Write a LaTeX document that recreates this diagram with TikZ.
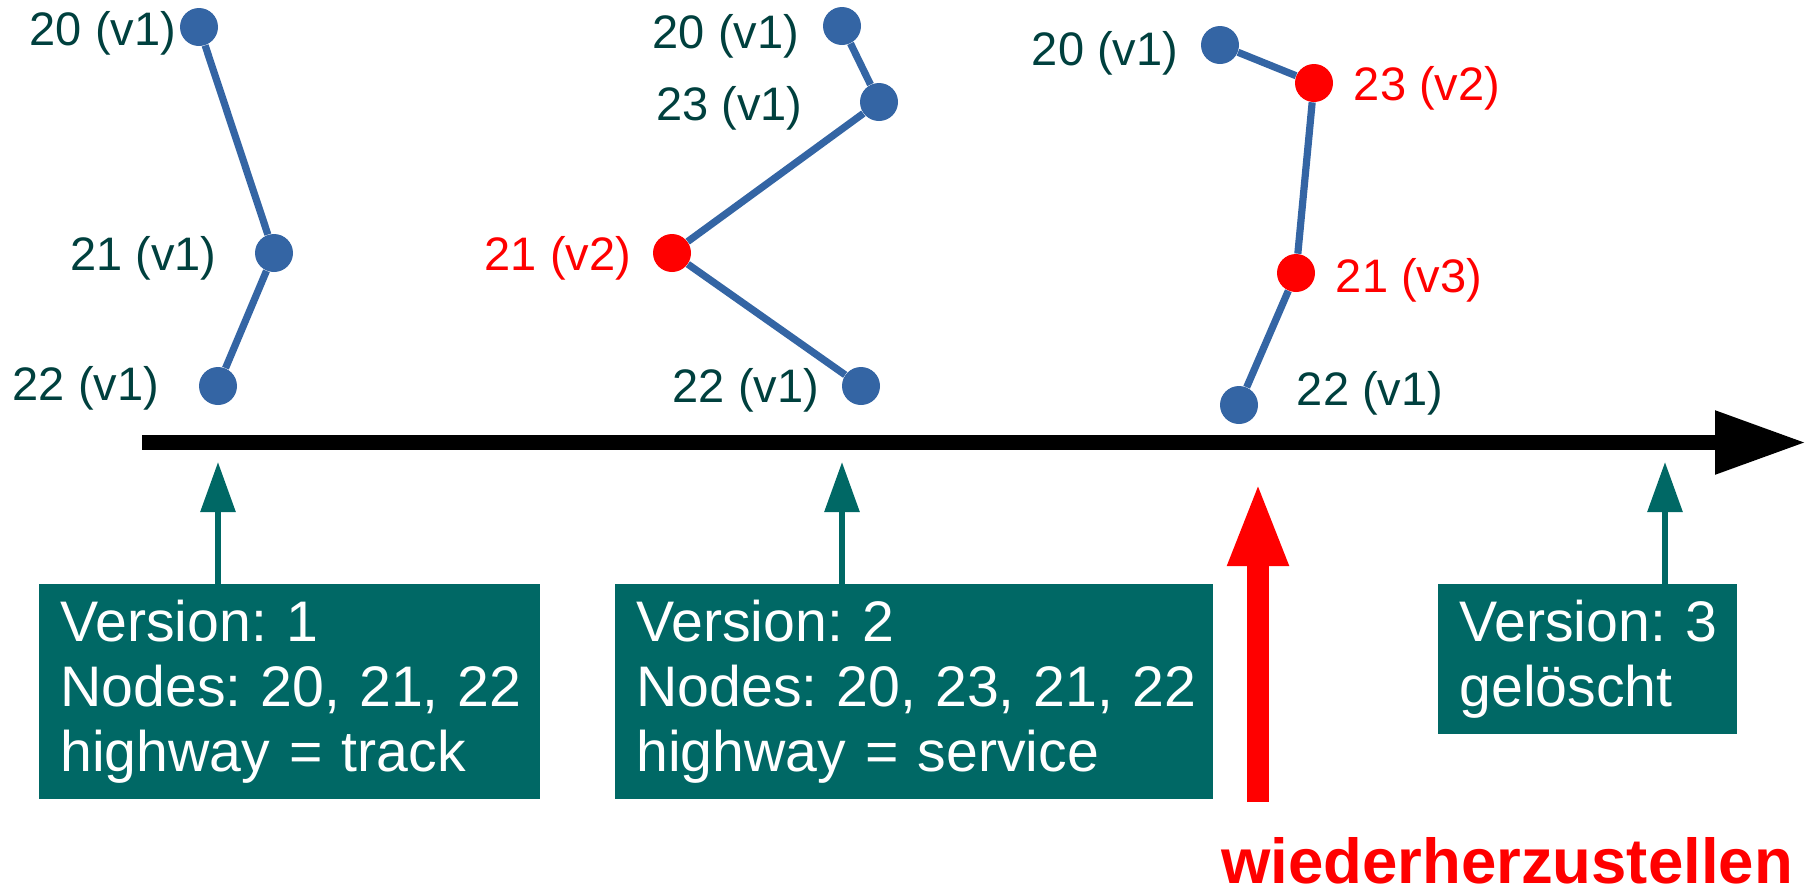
\documentclass[tikz,border=0pt]{standalone}
\usepackage{fontspec}
\setmainfont{Liberation Sans}
\usetikzlibrary{arrows.meta, positioning}
\definecolor{boxteal}{RGB}{0,104,101}
\definecolor{labeldark}{RGB}{0,64,62}
\definecolor{wayblue}{RGB}{52,101,164}
\definecolor{changed}{RGB}{255,0,0}
\tikzset{
    waynode/.style={circle, fill=wayblue, minimum size=19pt, inner sep=0pt}, % a node of the way
    newnode/.style={waynode, fill=changed}, % a node that got a new version
    lbl/.style={text=labeldark, anchor=base, inner sep=0pt, font=\fontsize{23.5}{28}\selectfont}, % node id and version
    newlbl/.style={lbl, text=changed}, % same, for changed nodes
    way/.style={draw=wayblue, line width=3.6pt}, % the segments of the way
    info/.style={fill=boxteal, text=white, anchor=north west, align=left, inner xsep=10.5pt, inner ysep=0pt, minimum height=107.5pt, font=\fontsize{28.6}{32.5}\selectfont\frenchspacing}, % version box
    pointer/.style={draw=boxteal, line width=3pt, -{Triangle[length=25pt, width=17pt]}}, % box to time line
    timeline/.style={line width=7.5pt, -{Triangle[length=45.5pt, width=30pt]}}, % the time axis
    restore/.style={draw=changed, line width=11pt, -{Triangle[length=42.5pt, width=27.5pt]}}, % the big red arrow
}

\begin{document}
\begin{tikzpicture}[x=0.5pt, y=-0.5pt]
    \useasboundingbox (0,0) rectangle (1811,891);

    % version 1
    \node[waynode] (a1) at (199,27) {};
    \node[waynode] (a2) at (274,253) {};
    \node[waynode] (a3) at (218,386) {};
    \node[lbl] (la1) at (103,45) {20 (v1)};
    \node[lbl] (la2) at (143.5,270) {21 (v1)};
    \node[lbl] (la3) at (86,400) {22 (v1)};
    \draw[way] (a1) -- (a2) -- (a3);

    % version 2
    \node[waynode] (b1) at (842,26) {};
    \node[waynode] (b2) at (879,102) {};
    \node[newnode] (b3) at (672,253) {};
    \node[waynode] (b4) at (861,386) {};
    \node[lbl] (lb1) at (726,48) {20 (v1)};
    \node[lbl] (lb2) at (729.5,120) {23 (v1)};
    \node[newlbl] (lb3) at (558,270) {21 (v2)};
    \node[lbl] (lb4) at (746,402) {22 (v1)};
    \draw[way] (b1) -- (b2) -- (b3) -- (b4);

    % version 3
    \node[waynode] (c1) at (1220,45) {};
    \node[newnode] (c2) at (1314,83) {};
    \node[newnode] (c3) at (1296,273) {};
    \node[waynode] (c4) at (1239,405) {};
    \node[lbl] (lc1) at (1105,65) {20 (v1)};
    \node[newlbl] (lc2) at (1427,100) {23 (v2)};
    \node[newlbl] (lc3) at (1409,292) {21 (v3)};
    \node[lbl] (lc4) at (1370,405) {22 (v1)};
    \draw[way] (c1) -- (c2) -- (c3) -- (c4);

    % time line
    \coordinate (t0) at (142,442.5);
    \coordinate (tend) at (1806,442.5);
    \draw[timeline] (t0) -- (tend);

    \coordinate (t1) at (218,462);
    \coordinate (t2) at (842,462);
    \coordinate (t3) at (1665,462);

    \node[info, text width=229.5pt] (box1) at (39,584) {\mbox{Version: 1}\\\mbox{Nodes: 20, 21, 22}\\\mbox{highway = track}};
    \node[info, text width=278pt] (box2) at (615,584) {\mbox{Version: 2}\\\mbox{Nodes: 20, 23, 21, 22}\\\mbox{highway = service}};
    \node[info, text width=128.5pt, minimum height=75pt] (box3) at (1438,584) {\mbox{Version: 3}\\\mbox{gelöscht}};

    \draw[pointer] (box1.north -| t1) -- (t1);
    \draw[pointer] (box2.north -| t2) -- (t2);
    \draw[pointer] (box3.north -| t3) -- (t3);

    % restore
    \coordinate (rbase) at (1258,802);
    \coordinate (rtip) at (1258,481);
    \draw[restore] (rbase) -- (rtip);
    \node[text=changed, anchor=base, inner sep=0pt, font=\bfseries\fontsize{31.75}{38}\selectfont] (undo) at (1507,883) {wiederherzustellen};
\end{tikzpicture}
\end{document}
